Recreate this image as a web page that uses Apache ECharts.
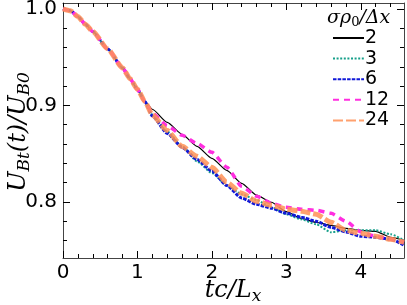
<!DOCTYPE html>
<html>
<head>
<meta charset="utf-8">
<script src="https://cdn.jsdelivr.net/npm/echarts@6/dist/echarts.min.js"></script>
<style>
html,body{margin:0;padding:0;background:#fff;}
#chart{width:407px;height:305px;}
</style>
</head>
<body>
<div id="chart"></div>
<script>
// ---- data ----
const tValues = [0, 0.1, 0.2, 0.3, 0.4, 0.6, 0.8, 0.9, 1.0, 1.1, 1.2, 1.4, 1.6, 1.8, 2.0, 2.2, 2.4, 2.6, 2.8, 3.0, 3.2, 3.4, 3.6, 3.8, 4.0, 4.2, 4.4, 4.58];
const headValues = [1.0, 0.998, 0.992, 0.984, 0.9764, 0.9585, 0.9388, 0.9276, 0.9166, 0.904];
const res2  = [0.896, 0.8824, 0.870, 0.8576, 0.8452, 0.8328, 0.8193, 0.807, 0.7997, 0.790, 0.783, 0.7789, 0.7758, 0.7727, 0.7707, 0.7696, 0.7634, 0.7604];
const res3  = [0.890, 0.873, 0.8576, 0.842, 0.830, 0.8172, 0.808, 0.802, 0.7945, 0.7873, 0.782, 0.7769, 0.7686, 0.7707, 0.7707, 0.7707, 0.7666, 0.7604];
const res6  = [0.889, 0.871, 0.8566, 0.844, 0.832, 0.817, 0.804, 0.7976, 0.7935, 0.7883, 0.7842, 0.780, 0.7738, 0.769, 0.7645, 0.7635, 0.7614, 0.7552];
const res12 = [0.892, 0.879, 0.869, 0.8607, 0.8514, 0.836, 0.8162, 0.806, 0.7986, 0.7945, 0.7925, 0.7914, 0.7883, 0.780, 0.769, 0.7645, 0.7614, 0.7583];
const res24 = [0.890, 0.874, 0.8576, 0.8473, 0.836, 0.8204, 0.809, 0.8007, 0.7966, 0.7925, 0.7904, 0.7873, 0.779, 0.7707, 0.7676, 0.7645, 0.7614, 0.7583];
const seriesNames = ['2', '3', '6', '12', '24'];
const xMajorTicks = [0, 1, 2, 3, 4];
const xMinorTicks = [0.2, 0.4, 0.6, 0.8, 1.2, 1.4, 1.6, 1.8, 2.2, 2.4, 2.6, 2.8, 3.2, 3.4, 3.6, 3.8, 4.2, 4.4];
const yMajorTicks = [0.8, 0.9, 1.0];
const yMinorTicks = [0.76, 0.78, 0.82, 0.84, 0.86, 0.88, 0.92, 0.94, 0.96, 0.98];
const xRange = [0, 4.58];
const yRange = [0.742, 1.006];

function build(tail) {
  const vals = headValues.concat(tail);
  return tValues.map((t, i) => [t, vals[i]]);
}
const allSeries = [res2, res3, res6, res12, res24];

const styles = [
  {color: '#000000', width: 1.2, type: 'solid', opacity: 1},
  {color: '#17a08a', width: 2, type: [2, 1.6], opacity: 1},
  {color: '#1018d8', width: 3, type: [3.5, 1.2], opacity: 1},
  {color: '#ff2ee0', width: 3.5, type: [6, 5], opacity: 1},
  {color: '#ff9055', width: 5, type: [10, 3], opacity: 0.85}
];

const FONT = 'DejaVu Sans';
const MATH = 'DejaVu Serif';

function xAxisDef(pos, ticks, len, showLabel, showLine) {
  return {
    type: 'value', position: pos, min: xRange[0], max: xRange[1],
    axisLine: {show: showLine, onZero: false, lineStyle: {color: '#444', width: 1}},
    axisTick: {show: true, inside: true, length: len, customValues: ticks, lineStyle: {color: '#000', width: 1}},
    axisLabel: {show: showLabel, customValues: ticks, margin: 5, fontFamily: FONT, fontSize: 20, color: '#000', formatter: v => String(Math.round(v))},
    splitLine: {show: false}
  };
}
function yAxisDef(pos, ticks, len, showLabel, showLine) {
  return {
    type: 'value', position: pos, min: yRange[0], max: yRange[1],
    axisLine: {show: showLine, onZero: false, lineStyle: {color: '#444', width: 1}},
    axisTick: {show: true, inside: true, length: len, customValues: ticks, lineStyle: {color: '#000', width: 1}},
    axisLabel: {show: showLabel, customValues: ticks, margin: 6, fontFamily: FONT, fontSize: 20, color: '#000', formatter: v => v.toFixed(1)},
    splitLine: {show: false}
  };
}

const mathRichG = {
  i: {fontFamily: MATH, fontStyle: 'italic', fontSize: 24, lineHeight: 28, fill: '#000'},
  s: {fontFamily: MATH, fontStyle: 'italic', fontSize: 17, lineHeight: 17, verticalAlign: 'bottom', fill: '#000'}
};

const xMain = xAxisDef('bottom', xMajorTicks, 7, true, true);
const yMain = yAxisDef('left', yMajorTicks, 7, true, true);

const option = {
  animation: false,
  backgroundColor: '#fff',
  grid: {left: 63, right: 3, top: 3, bottom: 47, containLabel: false, outerBoundsMode: 'none'},
  xAxis: [
    xMain,
    xAxisDef('bottom', xMinorTicks, 4, false, false),
    xAxisDef('top', xMajorTicks, 7, false, true),
    xAxisDef('top', xMinorTicks, 4, false, false)
  ],
  yAxis: [
    yMain,
    yAxisDef('left', yMinorTicks, 4, false, false),
    yAxisDef('right', yMajorTicks, 7, false, true),
    yAxisDef('right', yMinorTicks, 4, false, false)
  ],
  legend: {
    orient: 'vertical',
    left: 332, top: 28,
    padding: 0,
    itemWidth: 31, itemHeight: 10, itemGap: 0.6,
    itemStyle: {opacity: 0},
    textStyle: {fontFamily: FONT, fontSize: 19, lineHeight: 20, color: '#000', padding: [0, 0, 0, -4]},
    data: seriesNames
  },
  graphic: [{
    type: 'text', left: 327, top: 9,
    style: {
      text: '{i|σρ}{s|0}{i|/Δx}',
      rich: {
        i: {fontFamily: MATH, fontStyle: 'italic', fontSize: 19, lineHeight: 22, fill: '#000'},
        s: {fontFamily: MATH, fontSize: 13, lineHeight: 13, verticalAlign: 'bottom', fill: '#000'}
      }
    }
  }, {
    type: 'text', x: 19, y: 132, rotation: Math.PI / 2,
    style: {
      text: '{i|U}{s|Bt}{i|(t)/U}{s|B0}',
      align: 'center', verticalAlign: 'middle',
      rich: mathRichG
    }
  }, {
    type: 'text', x: 233, y: 291,
    style: {
      text: '{i|tc/L}{s|x}',
      align: 'center', verticalAlign: 'middle',
      rich: mathRichG
    }
  }],
  series: allSeries.map((tail, i) => ({
    name: seriesNames[i],
    type: 'line',
    xAxisIndex: 0, yAxisIndex: 0,
    data: build(tail),
    smooth: 0.2,
    smoothMonotone: 'x',
    symbol: 'none',
    lineStyle: {color: styles[i].color, width: styles[i].width, type: styles[i].type, opacity: styles[i].opacity, cap: 'butt'},
    itemStyle: {color: styles[i].color},
    z: 2 + i
  }))
};

const chart = echarts.init(document.getElementById('chart'), null, {renderer: 'canvas'});
chart.setOption(option);
</script>
</body>
</html>
